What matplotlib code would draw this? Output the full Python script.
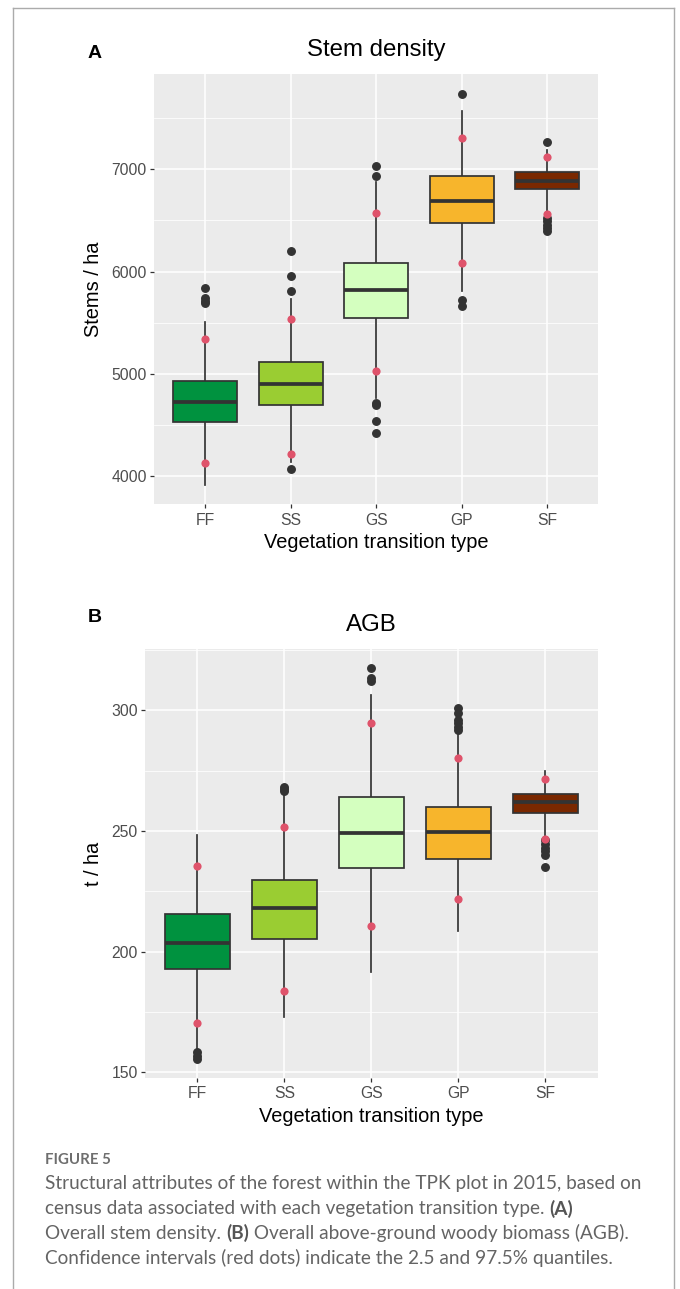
import matplotlib
matplotlib.use("Agg")
import matplotlib.pyplot as plt
from matplotlib.lines import Line2D
from matplotlib.ticker import FixedLocator

# ---------------- data ----------------
categories = ['FF', 'SS', 'GS', 'GP', 'SF']
box_colors = ['#00923F', '#9ACD32', '#D4FFBF', '#F7B52C', '#7A2800']

stem_q1 = [4527, 4700, 5544, 6472, 6804]
stem_med = [4728, 4901, 5817, 6690, 6886]
stem_q3 = [4934, 5116, 6087, 6935, 6974]
stem_whislo = [3914, 4140, 4760, 5813, 6585]
stem_whishi = [5510, 5729, 6873, 7573, 7189]
stem_fliers = [[5840, 5739, 5715, 5690],
               [6201, 5960, 5811, 4068],
               [7029, 6937, 4719, 4700, 4543, 4420],
               [7736, 5722, 5661],
               [7264, 6521, 6490, 6458, 6425, 6395]]
stem_ci_lo = [4132, 4220, 5025, 6081, 6563]
stem_ci_hi = [5341, 5534, 6576, 7306, 7117]
stem_ticks = [4000, 5000, 6000, 7000]
stem_minor = [4500, 5500, 6500, 7500]

agb_q1 = [192.8, 205.3, 234.8, 238.5, 257.6]
agb_med = [203.7, 218.0, 249.0, 249.4, 262.1]
agb_q3 = [215.6, 229.7, 263.9, 260.0, 265.3]
agb_whislo = [159.5, 172.8, 191.7, 208.7, 247.5]
agb_whishi = [248.3, 265.6, 306.3, 289.8, 274.8]
agb_fliers = [[158.2, 156.8, 155.4],
              [268.3, 267.5, 266.6],
              [317.7, 313.5, 312.3],
              [301.1, 298.8, 296.0, 294.6, 293.2, 291.8],
              [246.3, 244.6, 243.0, 241.5, 240.2, 234.9]]
agb_ci_lo = [170.5, 183.7, 210.5, 221.7, 246.7]
agb_ci_hi = [235.6, 251.8, 294.9, 280.4, 271.4]
agb_ticks = [150, 200, 250, 300]
agb_minor = [175, 225, 275, 325]

caption_lines = [
    [("Structural attributes of the forest within the TPK plot in 2015, based on", "normal")],
    [("census data associated with each vegetation transition type. ", "normal"), ("(A)", "bold")],
    [("Overall stem density. ", "normal"), ("(B)", "bold"),
     (" Overall above-ground woody biomass (AGB).", "normal")],
    [("Confidence intervals (red dots) indicate the 2.5 and 97.5% quantiles.", "normal")],
]

# ---------------- figure ----------------
W, H = 680, 1289
DPI = 100
fig = plt.figure(figsize=(W / DPI, H / DPI), dpi=DPI)
fig.patch.set_facecolor('white')
plt.rcParams['font.family'] = ['Liberation Sans', 'DejaVu Sans']


def fx(px):
    return px / W


def fy(py):
    return 1 - py / H


def panel(rect_px, q1, med, q3, wlo, whi, fliers, ci_lo, ci_hi, ylim,
          ticks, minor, title, ylabel, letter, letter_xy, title_y, xlab_y, ylab_x):
    l, t, r, b = rect_px
    ax = fig.add_axes([fx(l), fy(b), (r - l) / W, (b - t) / H])
    ax.set_facecolor('#EBEBEB')
    for s in ax.spines.values():
        s.set_visible(False)
    pos = list(range(1, len(categories) + 1))
    ax.set_xlim(0.4, len(categories) + 0.6)
    ax.set_ylim(*ylim)
    # grid
    for v in minor:
        ax.axhline(v, color='white', lw=0.55, zorder=0)
    for v in ticks:
        ax.axhline(v, color='white', lw=1.1, zorder=0)
    for p in pos:
        ax.axvline(p, color='white', lw=1.1, zorder=0)
    stats = []
    for i in range(len(categories)):
        stats.append(dict(med=med[i], q1=q1[i], q3=q3[i], whislo=wlo[i],
                          whishi=whi[i], fliers=fliers[i], label=categories[i]))
    bp = ax.bxp(stats, positions=pos, widths=0.75, patch_artist=True,
                showcaps=False,
                boxprops=dict(edgecolor='#333333', linewidth=1.25),
                whiskerprops=dict(color='#333333', linewidth=1.25),
                medianprops=dict(color='#333333', linewidth=2.7, solid_capstyle='butt'),
                flierprops=dict(marker='o', markerfacecolor='#333333',
                                markeredgecolor='#333333', markersize=5.4,
                                linestyle='none'),
                zorder=2)
    for patch, c in zip(bp['boxes'], box_colors):
        patch.set_facecolor(c)
    for lst in (bp['boxes'], bp['medians']):
        for a in lst:
            a.set_zorder(3)
    for a in bp['whiskers']:
        a.set_zorder(2)
    ax.plot(pos, ci_lo, 'o', color='#DF536B', markersize=5.9, zorder=5, mec='none')
    ax.plot(pos, ci_hi, 'o', color='#DF536B', markersize=5.9, zorder=5, mec='none')
    ax.yaxis.set_major_locator(FixedLocator(ticks))
    ax.set_yticklabels([str(v) for v in ticks])
    ax.set_xticks(pos)
    ax.set_xticklabels(categories)
    ax.tick_params(axis='both', colors='#333333', length=3.0, width=0.9,
                   labelsize=11.3, labelcolor='#4D4D4D')
    ax.tick_params(axis='x', pad=3.0)
    ax.tick_params(axis='y', pad=2.2)
    ax.minorticks_off()
    fig.text(fx((l + r) / 2), fy(title_y), title, ha='center', va='center',
             fontsize=17.3, color='black')
    fig.text(fx((l + r) / 2), fy(xlab_y), 'Vegetation transition type', ha='center',
             va='center', fontsize=14.4, color='black')
    fig.text(fx(ylab_x), fy((t + b) / 2), ylabel, ha='center', va='center',
             rotation=90, fontsize=14.4, color='black')
    fig.text(fx(letter_xy[0]), fy(letter_xy[1]), letter, ha='center', va='center',
             fontsize=14, fontweight='bold', color='black')
    return ax


panel((154, 74, 598.3, 504.3), stem_q1, stem_med, stem_q3, stem_whislo, stem_whishi,
      stem_fliers, stem_ci_lo, stem_ci_hi, (3726, 7931), stem_ticks, stem_minor,
      'Stem density', 'Stems / ha', 'A', (95, 53), 50, 542, 93)

panel((145, 649, 597.7, 1078), agb_q1, agb_med, agb_q3, agb_whislo, agb_whishi,
      agb_fliers, agb_ci_lo, agb_ci_hi, (147.6, 325.4), agb_ticks, agb_minor,
      'AGB', 't / ha', 'B', (94.5, 617), 625, 1116, 93)

# frame
fig.add_artist(Line2D([fx(13), fx(13)], [fy(8), 0], color='#ABABAB', lw=1.0,
                      transform=fig.transFigure))
fig.add_artist(Line2D([fx(673.5), fx(673.5)], [fy(8), 0], color='#ABABAB', lw=1.0,
                      transform=fig.transFigure))
fig.add_artist(Line2D([fx(13), fx(673.5)], [fy(8), fy(8)], color='#ABABAB', lw=1.0,
                      transform=fig.transFigure))

# caption
cap_font = ['Lato', 'DejaVu Sans']
fig.text(fx(45), fy(1160), 'FIGURE 5', ha='left', va='center', fontsize=10.8,
         fontweight='bold', color='#6E6E6E', family=cap_font)
renderer = fig.canvas.get_renderer()
line_y = [1184, 1208.5, 1233, 1257.5]
for segs, yy in zip(caption_lines, line_y):
    x = 45.0
    for txt, wt in segs:
        tobj = fig.text(fx(x), fy(yy), txt, ha='left', va='center', fontsize=13.7,
                        fontweight=wt, color='#646464' if wt == 'normal' else '#555555',
                        family=cap_font)
        bb = tobj.get_window_extent(renderer=renderer)
        x += bb.width

fig.savefig('out.png', dpi=DPI, facecolor='white')
